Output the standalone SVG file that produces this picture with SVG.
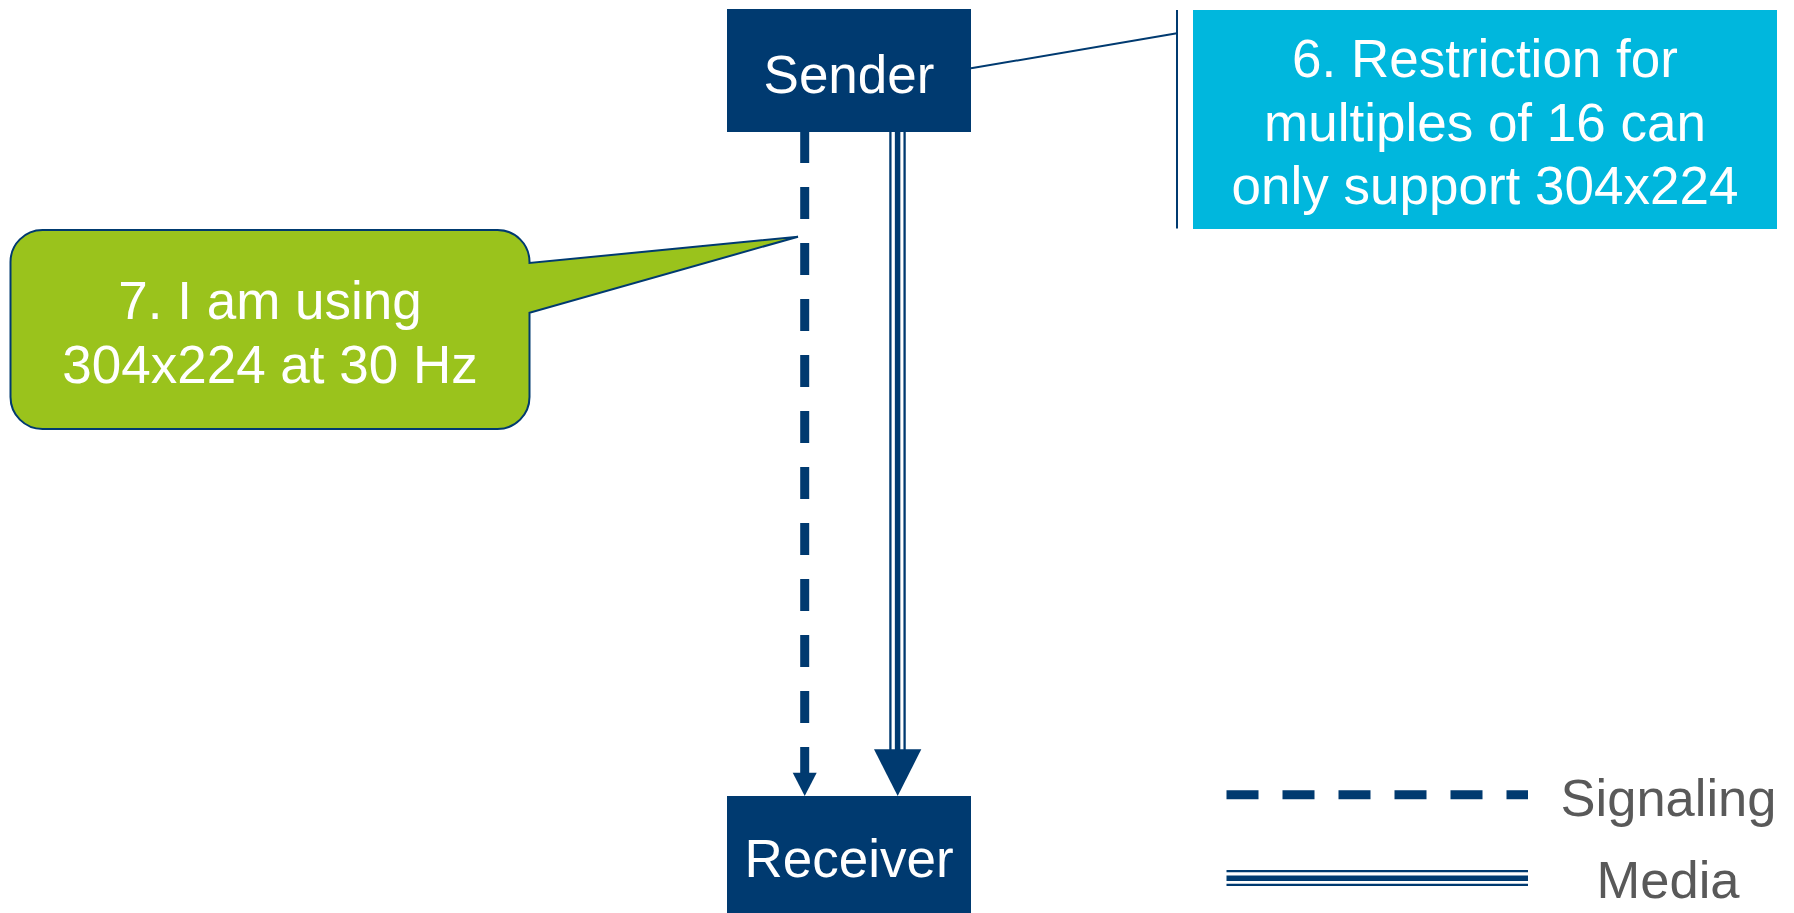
<svg xmlns="http://www.w3.org/2000/svg" width="1794" height="913" viewBox="0 0 1794 913">
  <defs>
    <style>
      .navy { fill: #003A70; }
      .lbl { font-family: "Liberation Sans", Arial, sans-serif; font-size: 53px; fill: #FFFFFF; text-anchor: middle; }
      .leg { font-family: "Liberation Sans", Arial, sans-serif; font-size: 52.5px; fill: #595959; text-anchor: middle; }
      .dash { stroke: #003A70; stroke-width: 9; stroke-dasharray: 32 24; fill: none; }
      .thin { stroke: #003A70; stroke-width: 2.3; fill: none; }
      .thick { stroke: #003A70; stroke-width: 5.5; fill: none; }
      .conn { stroke: #003A70; stroke-width: 2; fill: none; }
    </style>
  </defs>
  <rect width="1794" height="913" fill="#FFFFFF"/>

  <g id="connectors">
    <!-- signaling (dashed) Sender -> Receiver -->
    <line class="dash" x1="804.7" y1="131" x2="804.7" y2="774"/>
    <polygon class="navy" points="792.7,772.7 816.7,772.7 804.7,796"/>
    <!-- media (triple line) Sender -> Receiver -->
    <line class="thin" x1="890.4" y1="132" x2="890.4" y2="750"/>
    <line class="thick" x1="897.6" y1="132" x2="897.6" y2="750"/>
    <line class="thin" x1="904.6" y1="132" x2="904.6" y2="750"/>
    <polygon class="navy" points="874,749.3 921.3,749.3 897.7,796"/>
    <!-- annotation line from Sender to note 6 -->
    <polyline class="conn" points="971,68.3 1177,33.3"/>
    <line class="conn" x1="1177" y1="10" x2="1177" y2="228.5"/>
  </g>

  <g id="sender">
    <rect class="navy" x="727" y="9" width="244" height="123"/>
    <text class="lbl" x="849" y="92.7">Sender</text>
  </g>

  <g id="receiver">
    <rect class="navy" x="727" y="796" width="244" height="120"/>
    <text class="lbl" x="849" y="876.7">Receiver</text>
  </g>

  <g id="note6">
    <rect x="1193" y="10" width="584" height="219" fill="#00B7DD"/>
    <text class="lbl" x="1485" y="77">6. Restriction for</text>
    <text class="lbl" x="1485" y="140.7">multiples of 16 can</text>
    <text class="lbl" x="1485" y="204.3">only support 304x224</text>
  </g>

  <g id="note7">
    <path d="M 42.5 230 H 497.5 A 32 32 0 0 1 529.5 262 L 529.5 263 L 798 236.7 L 529.5 312.7 V 397 A 32 32 0 0 1 497.5 429 H 42.5 A 32 32 0 0 1 10.5 397 V 262 A 32 32 0 0 1 42.5 230 Z" fill="#9AC31C" stroke="#003A70" stroke-width="2" stroke-linejoin="miter"/>
    <text class="lbl" x="270" y="319.3">7. I am using</text>
    <text class="lbl" x="270" y="383.3">304x224 at 30 Hz</text>
  </g>

  <g id="legend">
    <line class="dash" x1="1226.5" y1="794.7" x2="1528" y2="794.7" stroke-width="8"/>
    <text class="leg" x="1668.5" y="816">Signaling</text>
    <line class="thin" x1="1226.5" y1="871.1" x2="1528" y2="871.1"/>
    <line class="thick" x1="1226.5" y1="878.2" x2="1528" y2="878.2"/>
    <line class="thin" x1="1226.5" y1="884.8" x2="1528" y2="884.8"/>
    <text class="leg" x="1668" y="898.3">Media</text>
  </g>
</svg>
